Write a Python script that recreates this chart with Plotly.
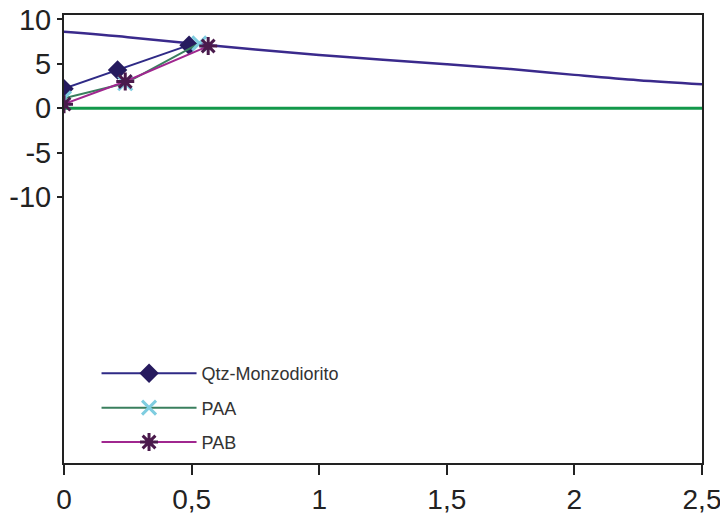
import plotly.graph_objects as go

# smooth reference curve (no markers)
curve_x = [0, 0.25, 0.5, 0.75, 1, 1.25, 1.5, 1.75, 2, 2.25, 2.5]
curve_y = [8.6, 8.0, 7.3, 6.6, 6.0, 5.45, 4.95, 4.4, 3.75, 3.15, 2.7]

zero_x = [0, 2.5]
zero_y = [0, 0]

qtz_x = [0, 0.21, 0.49]
qtz_y = [2.2, 4.3, 7.1]

paa_x = [0, 0.24, 0.53]
paa_y = [1.1, 2.8, 7.3]

pab_x = [0, 0.24, 0.565]
pab_y = [0.45, 3.0, 7.0]

y_ticks = [10, 5, 0, -5, -10]
y_labels = ["10", "5", "0", "-5", "-10"]
x_ticks = [0, 0.5, 1, 1.5, 2, 2.5]
x_labels = ["0", "0,5", "1", "1,5", "2", "2,5"]

fig = go.Figure()
fig.add_trace(go.Scatter(x=curve_x, y=curve_y, mode="lines", line=dict(color="#3a2a8c", width=2.5),
                         line_shape="spline", showlegend=False, hoverinfo="skip"))
fig.add_trace(go.Scatter(x=zero_x, y=zero_y, mode="lines", line=dict(color="#12984a", width=3),
                         showlegend=False, hoverinfo="skip"))
fig.add_trace(go.Scatter(
    x=qtz_x, y=qtz_y, mode="lines+markers", name="Qtz-Monzodiorito", legendgroup="a",
    line=dict(color="#2f2a86", width=2),
    marker=dict(symbol="diamond", size=15, color="#261a5e"),
))
fig.add_trace(go.Scatter(
    x=paa_x, y=paa_y, mode="lines+markers", name="PAA", legendgroup="b",
    line=dict(color="#3a7f5e", width=2),
    marker=dict(symbol="x-thin", size=14, line=dict(color="#7fcde0", width=3)),
))
fig.add_trace(go.Scatter(
    x=pab_x, y=pab_y, mode="lines+markers", name="PAB", legendgroup="c",
    line=dict(color="#a0278f", width=2),
    marker=dict(symbol="asterisk", size=15, line=dict(color="#4a1a4c", width=3)),
))

# page body has an 8px margin, so the figure is sized to fit the window after it
fig.update_layout(
    width=720,
    height=505,
    paper_bgcolor="white",
    plot_bgcolor="white",
    margin=dict(l=56, r=26, t=7, b=50, autoexpand=False),
    font=dict(family="Liberation Sans, Arial, sans-serif", color="#222222"),
    legend=dict(
        x=0.051, y=0.241, xanchor="left", yanchor="top",
        font=dict(size=18, color="#333333"),
        itemwidth=95, tracegroupgap=8,
        bgcolor="rgba(0,0,0,0)",
    ),
    showlegend=True,
)
fig.update_xaxes(
    range=[0, 2.5], tickvals=x_ticks, ticktext=x_labels,
    showgrid=False, zeroline=False, automargin=False,
    showline=True, linecolor="#222222", linewidth=2, mirror=True,
    ticks="outside", ticklen=10, tickwidth=2, tickcolor="#222222",
    tickfont=dict(size=28), ticklabeloverflow="allow",
)
fig.update_yaxes(
    range=[-40, 10.5], tickvals=y_ticks, ticktext=y_labels,
    showgrid=False, zeroline=False, automargin=False,
    showline=True, linecolor="#222222", linewidth=2, mirror=True,
    ticks="outside", ticklen=5, tickwidth=2, tickcolor="#222222",
    tickfont=dict(size=29), ticklabeloverflow="allow",
)

fig.write_html("out.html")
